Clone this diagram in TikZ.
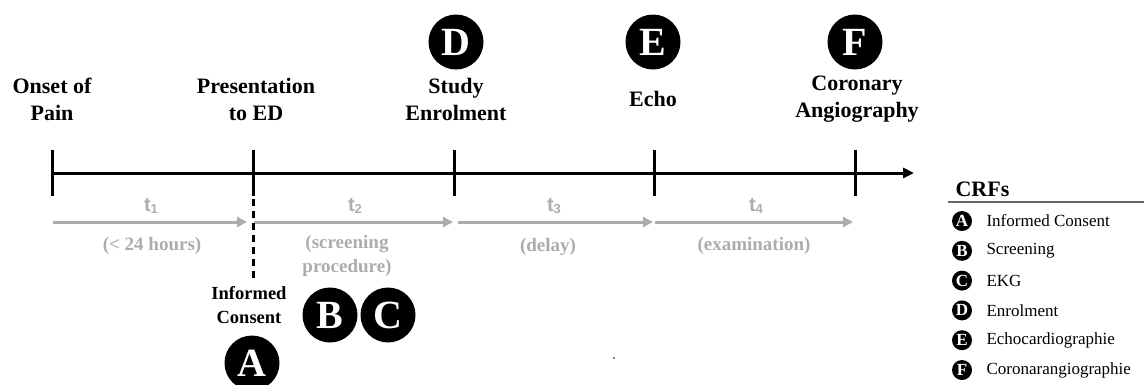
\documentclass[tikz,border=0pt]{standalone}
\usepackage{fontspec}
\setmainfont{Liberation Serif}
\newfontfamily\labsans{Liberation Sans}
\usetikzlibrary{arrows.meta}
\definecolor{spangray}{RGB}{172,172,172}
\tikzset{
  evt/.style={font=\fontsize{22}{27}\selectfont\bfseries, align=center},
  crf/.style={circle, fill=black, text=white, minimum size=55pt, inner sep=0pt,
    font=\fontsize{40}{40}\selectfont\bfseries},
  crfkey/.style={circle, fill=black, text=white, minimum size=20pt, inner sep=0pt,
    font=\fontsize{17}{17}\selectfont\bfseries},
  keytext/.style={anchor=west, font=\fontsize{17}{17}\selectfont},
  tickmark/.style={line width=3pt},
  gapspan/.style={draw=spangray, line width=3pt, -{Triangle[length=10pt,width=10pt]}},
  gaplabel/.style={text=spangray, font=\fontsize{19}{24}\selectfont\bfseries, align=center},
  tlabel/.style={text=spangray, font=\labsans\fontsize{20}{20}\selectfont\bfseries},
}
\newcommand{\tsub}[1]{t\raisebox{-2pt}{\fontsize{13}{13}\selectfont #1}}
\begin{document}
\begin{tikzpicture}[x=1pt,y=-1pt]
  \useasboundingbox (0,0) rectangle (1144,384);

  % timeline
  \coordinate (T0) at (52,173);
  \coordinate (T1) at (253,173);
  \coordinate (T2) at (454,173);
  \coordinate (T3) at (654,173);
  \coordinate (T4) at (855,173);
  \coordinate (Tend) at (914,173);
  \draw[line width=3pt, -{Triangle[length=11pt,width=10pt]}] (T0) -- (Tend);
  \foreach \p in {T0,T1,T2,T3,T4}
    \draw[tickmark] ([yshift=-23pt]\p) -- ([yshift=23pt]\p);

  % events
  \node[evt] (onset) at (52,99) {Onset of\\Pain};
  \node[evt] (pres) at (256,99) {Presentation\\to ED};
  \node[evt] (enrol) at (456,99) {Study\\Enrolment};
  \node[evt] (echo) at (653,99) {Echo};
  \node[evt] (angio) at (857,99) {Coronary\\Angiography};

  \node[crf] (D) at (456,42) {D};
  \node[crf] (E) at (653,42) {E};
  \node[crf] (F) at (855,42) {F};

  % intervals
  \coordinate (S0) at (53,222);  \coordinate (E0) at (247,222);
  \coordinate (S1) at (254,222); \coordinate (E1) at (453,222);
  \coordinate (S2) at (458,222); \coordinate (E2) at (653,222);
  \coordinate (S3) at (655,222); \coordinate (E3) at (853,222);
  \draw[gapspan] (S0) -- (E0);
  \draw[gapspan] (S1) -- (E1);
  \draw[gapspan] (S2) -- (E2);
  \draw[gapspan] (S3) -- (E3);

  \node[tlabel] (t1) at (151,206) {\tsub{1}};
  \node[tlabel] (t2) at (355,206) {\tsub{2}};
  \node[tlabel] (t3) at (554,206) {\tsub{3}};
  \node[tlabel] (t4) at (756,206) {\tsub{4}};

  \node[gaplabel] (g1) at (152,246) {(< 24 hours)};
  \node[gaplabel] (g2) at (347,256) {(screening\\procedure)};
  \node[gaplabel] (g3) at (548,247) {(delay)};
  \node[gaplabel] (g4) at (754,246) {(examination)};

  % consent
  \coordinate (C0) at (253,199);
  \coordinate (C1) at (253,281);
  \draw[line width=3pt, dash pattern=on 7pt off 5pt] (C0) -- (C1);
  \node[font=\fontsize{18.5}{24}\selectfont\bfseries, align=center] (consent) at (249,305) {Informed\\Consent};
  \node[crf] (A) at (252,363) {A};
  \node[crf] (B) at (330,315) {B};
  \node[crf] (C) at (388,315) {C};
  \fill (614,358) circle (0.8pt);

  % legend
  \node[anchor=west, font=\fontsize{22}{22}\selectfont\bfseries] (crfs) at (952,189) {CRFs};
  \coordinate (R0) at (948,202);
  \coordinate (R1) at (1144,202);
  \draw[draw=black!60, line width=1.2pt] (R0) -- (R1);
  \foreach \l/\t [count=\i from 0] in {A/Informed Consent, B/Screening, C/EKG,
      D/Enrolment, E/Echocardiographie, F/Coronarangiographie} {
    \node[crfkey] (k\l) at (962,{221+29.8*\i}) {\l};
    \node[keytext] (kt\l) at (983,{221+29.8*\i}) {\t};
  }
\end{tikzpicture}
\end{document}
